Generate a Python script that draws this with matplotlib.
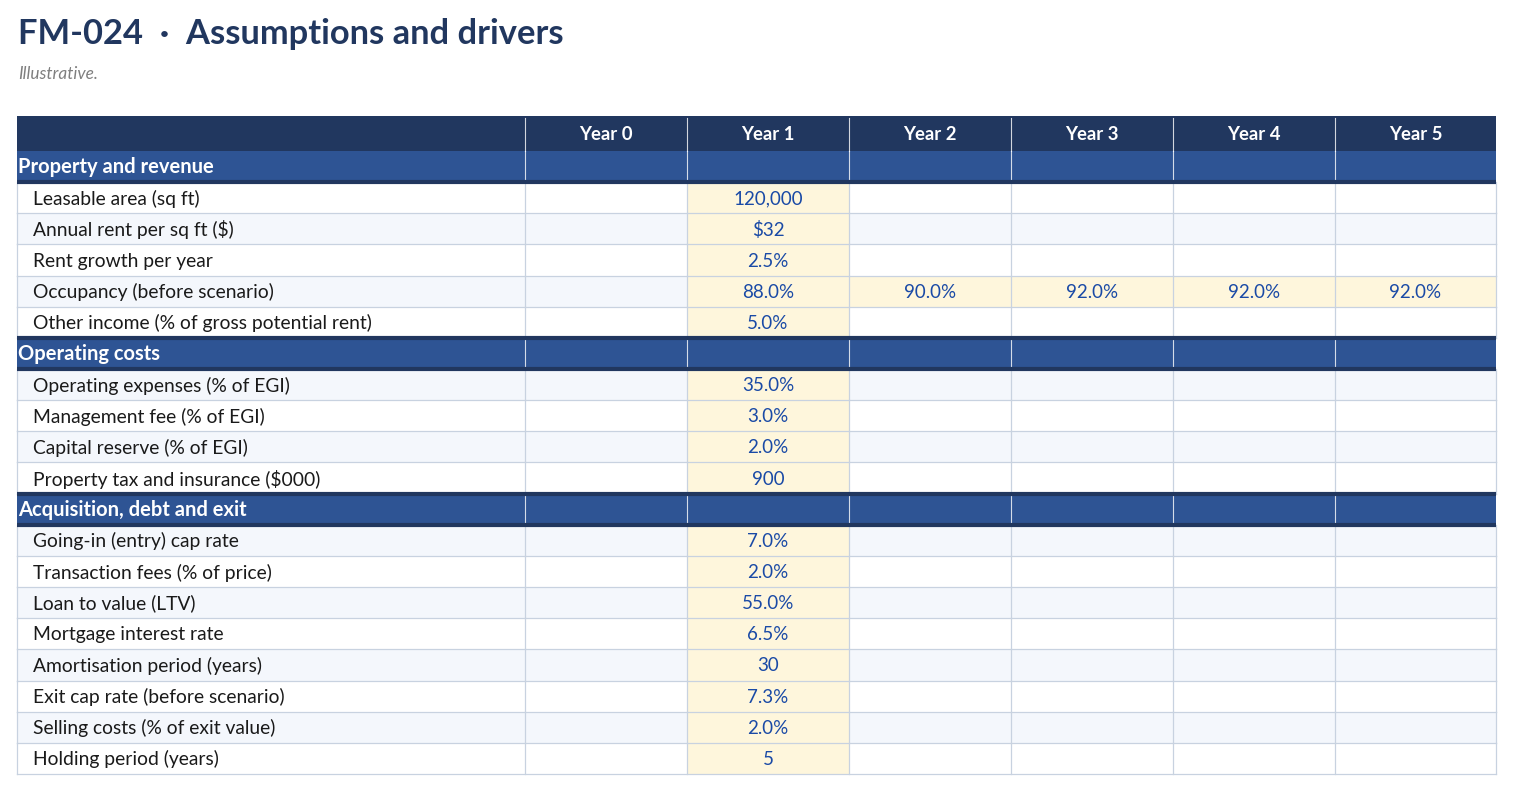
import matplotlib.pyplot as plt
from matplotlib.patches import Rectangle

plt.rcParams['font.family'] = ['Lato', 'DejaVu Sans']

# table content
columns = ["Year 0", "Year 1", "Year 2", "Year 3", "Year 4", "Year 5"]
sections = ["Property and revenue", "Operating costs", "Acquisition, debt and exit"]

property_labels = ["Leasable area (sq ft)", "Annual rent per sq ft ($)", "Rent growth per year",
                   "Occupancy (before scenario)", "Other income (% of gross potential rent)"]
property_year1 = ["120,000", "$32", "2.5%", "88.0%", "5.0%"]

costs_labels = ["Operating expenses (% of EGI)", "Management fee (% of EGI)",
                "Capital reserve (% of EGI)", "Property tax and insurance ($000)"]
costs_year1 = ["35.0%", "3.0%", "2.0%", "900"]

deal_labels = ["Going-in (entry) cap rate", "Transaction fees (% of price)", "Loan to value (LTV)",
               "Mortgage interest rate", "Amortisation period (years)", "Exit cap rate (before scenario)",
               "Selling costs (% of exit value)", "Holding period (years)"]
deal_year1 = ["7.0%", "2.0%", "55.0%", "6.5%", "30", "7.3%", "2.0%", "5"]

# occupancy is the only driver that varies after year 1
occupancy_later = ["90.0%", "92.0%", "92.0%", "92.0%"]

# colours
navy = "#21375f"
section_blue = "#2e5494"
stripe = "#f4f7fc"
input_yellow = "#fef6dc"
value_blue = "#1a4aa6"
grid = "#c8d2e0"
label_col = "#1a1a1a"

W, H = 1513, 791
fig = plt.figure(figsize=(W / 100, H / 100), dpi=100)
ax = fig.add_axes([0, 0, 1, 1])
ax.set_xlim(0, W)
ax.set_ylim(H, 0)
ax.axis("off")

fig.text(18 / W, 1 - 44 / H, "FM-024  \u00b7  Assumptions and drivers", fontsize=24.8,
         fontweight="bold", color=navy, va="baseline")
fig.text(18 / W, 1 - 79 / H, "Illustrative.", fontsize=12.4, style="italic",
         color="#7f7f7f", va="baseline")

left, right = 17, 1496
col_edges = [17, 525, 687, 849, 1011, 1173, 1335, 1496]
top, head_h, row_h = 116, 35, 31.15
fs = 13.9

# header
ax.add_patch(Rectangle((left, top), right - left, head_h, color=navy, lw=0))
for i, c in enumerate(columns):
    cx = (col_edges[i + 1] + col_edges[i + 2]) / 2
    ax.text(cx, top + head_h / 2 + 1.5, c, ha="center", va="center", color="white",
            fontsize=13.3, fontweight="bold")
for x in col_edges[1:-1]:
    ax.plot([x, x], [top + 2, top + head_h], color="white", lw=0.8, alpha=0.8)

blocks = [(property_labels, property_year1), (costs_labels, costs_year1), (deal_labels, deal_year1)]

y = top + head_h
data_idx = 0
for sec, (labels, vals) in zip(sections, blocks):
    # section row
    ax.add_patch(Rectangle((left, y), right - left, row_h, color=section_blue, lw=0))
    for x in col_edges[1:-1]:
        ax.plot([x, x], [y, y + row_h], color="white", lw=0.8, alpha=0.8)
    ax.text(left + 1, y + row_h / 2 + 0.5, sec, ha="left", va="center", color="white",
            fontsize=14.5, fontweight="bold")
    if sec != sections[0]:
        ax.plot([left, right], [y, y], color=navy, lw=3, solid_capstyle="butt", zorder=5)
    ax.plot([left, right], [y + row_h, y + row_h], color=navy, lw=3,
            solid_capstyle="butt", zorder=5)
    y += row_h
    for lab, v in zip(labels, vals):
        bg = stripe if data_idx % 2 == 1 else "white"
        ax.add_patch(Rectangle((left, y), right - left, row_h, color=bg, lw=0))
        ax.add_patch(Rectangle((col_edges[2], y), col_edges[3] - col_edges[2], row_h,
                               color=input_yellow, lw=0))
        ax.text(33, y + row_h / 2 + 1, lab, ha="left", va="center", color=label_col, fontsize=fs)
        ax.text((col_edges[2] + col_edges[3]) / 2, y + row_h / 2 + 1, v, ha="center",
                va="center", color=value_blue, fontsize=13.5)
        if lab.startswith("Occupancy"):
            for j, ov in enumerate(occupancy_later):
                x0, x1 = col_edges[3 + j], col_edges[4 + j]
                ax.add_patch(Rectangle((x0, y), x1 - x0, row_h, color=input_yellow, lw=0))
                ax.text((x0 + x1) / 2, y + row_h / 2 + 1, ov, ha="center", va="center",
                        color=value_blue, fontsize=13.5)
        for x in col_edges:
            ax.plot([x, x], [y, y + row_h], color=grid, lw=0.9, zorder=3)
        ax.plot([left, right], [y + row_h, y + row_h], color=grid, lw=0.9, zorder=3)
        y += row_h
        data_idx += 1

fig.savefig("out.png", dpi=100)
